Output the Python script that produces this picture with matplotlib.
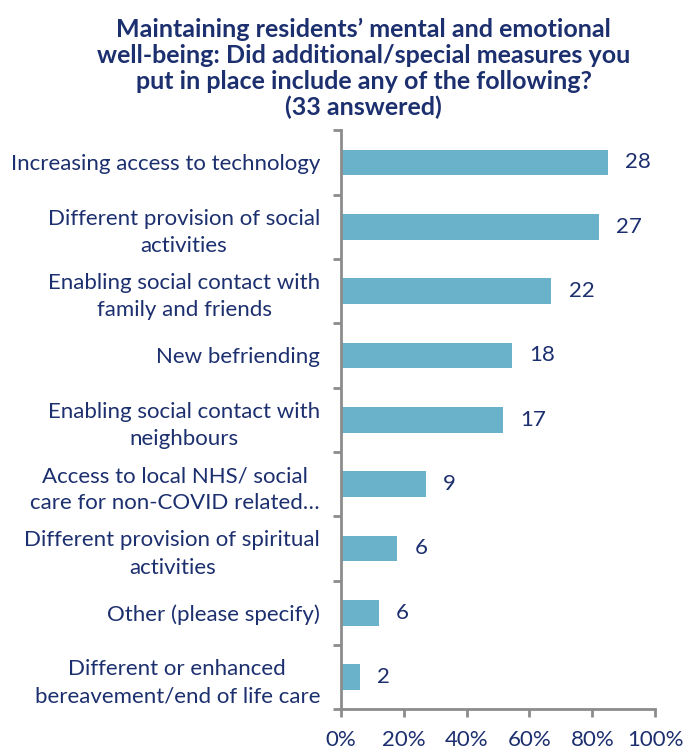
import numpy as np
import matplotlib.pyplot as plt
from matplotlib.ticker import FuncFormatter

# Data (top to bottom as shown)
categories = [
    'Increasing access to technology',
    'Different provision of social\nactivities',
    'Enabling social contact with\nfamily and friends',
    'New befriending',
    'Enabling social contact with\nneighbours',
    'Access to local NHS/ social\ncare for non-COVID related\u2026',
    'Different provision of spiritual\nactivities',
    'Other (please specify)',
    'Different or enhanced\nbereavement/end of life care',
]
percent = [85, 82, 67, 54.5, 51.5, 27, 18, 12, 6]
counts = [28, 27, 22, 18, 17, 9, 6, 6, 2]
x_ticks = [0, 20, 40, 60, 80, 100]

title = ("Maintaining residents\u2019 mental and emotional\n"
         "well-being: Did additional/special measures you\n"
         "put in place include any of the following?\n"
         "(33 answered)")

navy = '#1c2f6e'
bar_color = '#6ab2ca'
axis_gray = '#8c8c8c'

plt.rcParams['font.family'] = ['Lato', 'DejaVu Sans']

fig = plt.figure(figsize=(6.86, 7.49), dpi=100)
ax = fig.add_axes([0.497, 0.053, 0.458, 0.773])

y = np.arange(len(categories))
ax.barh(y, percent, height=0.4, color=bar_color, zorder=2)
for yi, p, c in zip(y, percent, counts):
    ax.text(p + 5.5, yi, str(c), va='center', ha='left', fontsize=16, color=navy)

ax.set_xlim(0, 100)
ax.set_ylim(len(categories) - 0.5, -0.5)
ax.set_xticks(x_ticks)
ax.xaxis.set_major_formatter(FuncFormatter(lambda v, _: f'{v:.0f}%'))

# category labels sit between boundary ticks
ax.set_yticks(y)
ax.set_yticklabels(categories, fontsize=16, color=navy, multialignment='center',
                   linespacing=1.45)
ax.tick_params(axis='y', which='major', length=0, pad=15)
ax.set_yticks(np.arange(len(categories) + 1) - 0.5, minor=True)
ax.tick_params(axis='y', which='minor', length=6, width=2, color=axis_gray, direction='out')
ax.tick_params(axis='x', length=6, width=2, color=axis_gray, labelsize=16,
               labelcolor=navy, pad=9)

for side in ['top', 'right']:
    ax.spines[side].set_visible(False)
for side in ['left', 'bottom']:
    ax.spines[side].set_color(axis_gray)
    ax.spines[side].set_linewidth(2)

fig.text(0.53, 0.976, title, ha='center', va='top', fontsize=18,
         fontweight='bold', color=navy, linespacing=1.14)

fig.savefig('out.png', dpi=100)
